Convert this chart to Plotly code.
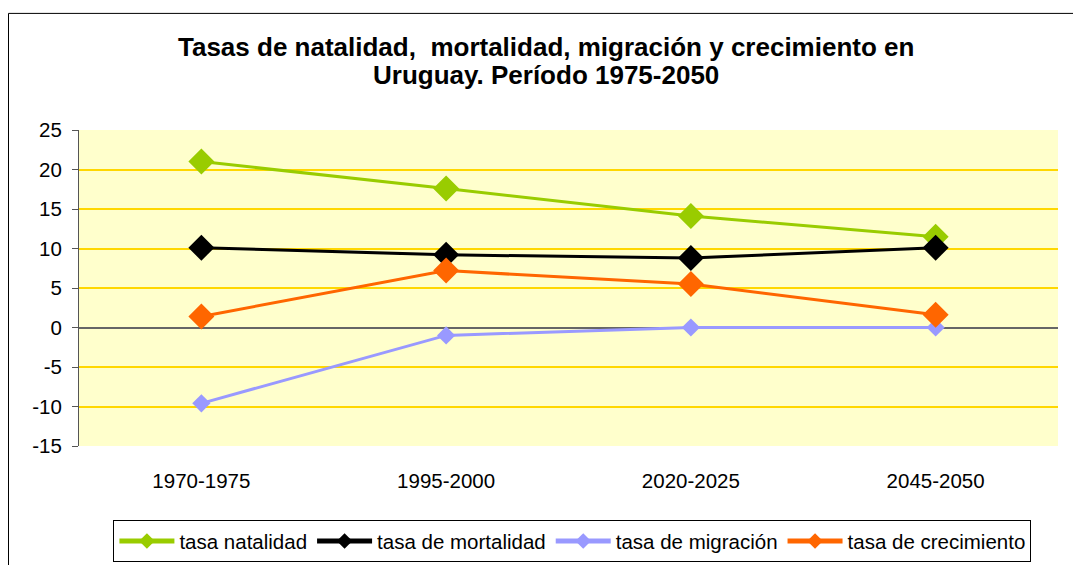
import plotly.graph_objects as go

periods = ['1970-1975', '1995-2000', '2020-2025', '2045-2050']
natalidad = [21.0, 17.6, 14.1, 11.5]
mortalidad = [10.1, 9.2, 8.8, 10.1]
migracion = [-9.6, -1.0, 0.0, 0.0]
crecimiento = [1.4, 7.2, 5.5, 1.6]
y_ticks = [-15, -10, -5, 0, 5, 10, 15, 20, 25]
y_tick_labels = ['-15', '-10', '-5', '0', '5', '10', '15', '20', '25']
title_lines = ['Tasas de natalidad,  mortalidad, migración y crecimiento en',
               'Uruguay. Período 1975-2050']

series = [
    ('tasa natalidad', natalidad, '#99CC00', 20),
    ('tasa de mortalidad', mortalidad, '#000000', 20),
    ('tasa de migración', migracion, '#9999FF', 14),
    ('tasa de crecimiento', crecimiento, '#FF6600', 20),
]

fig = go.Figure()
for name, vals, color, size in series:
    fig.add_trace(go.Scatter(
        x=periods,
        y=vals,
        name=name,
        mode='lines+markers',
        line=dict(color=color, width=3),
        marker=dict(symbol='diamond', size=size, color=color),
    ))

fig.update_layout(
    width=1081,
    height=565,
    font=dict(family='Liberation Sans, Arial', size=20, color='black'),
    paper_bgcolor='white',
    plot_bgcolor='#FFFFCC',
    margin=dict(l=71, r=31, t=122, b=126),
    showlegend=True,
    legend=dict(
        orientation='h',
        x=0.504,
        xanchor='center',
        y=-0.297,
        yanchor='middle',
        bordercolor='black',
        borderwidth=1,
        font=dict(size=20.5),
        itemsizing='constant',
        itemwidth=55,
    ),
    xaxis=dict(
        type='category',
        range=[-0.5, 3.5],
        showgrid=False,
        zeroline=False,
        showline=False,
        ticks='',
        ticklabelstandoff=20,
        tickfont=dict(size=20.5),
    ),
    yaxis=dict(
        range=[-15, 25],
        tickvals=y_ticks,
        ticktext=y_tick_labels,
        showgrid=True,
        gridcolor='#FFD700',
        gridwidth=1.5,
        zeroline=True,
        zerolinecolor='#666666',
        zerolinewidth=1.5,
        showline=True,
        linecolor='#555555',
        linewidth=1,
        ticks='outside',
        ticklen=6,
        tickcolor='#555555',
        ticklabelstandoff=6,
        tickfont=dict(size=20.5),
    ),
)

# title as two lines, tighter spacing than plotly's title
for line, ypos in zip(title_lines, [1.262, 1.1735]):
    fig.add_annotation(text='<b>' + line + '</b>', xref='paper', yref='paper',
                       x=0.477, y=ypos, xanchor='center', yanchor='middle',
                       showarrow=False, font=dict(size=26, color='black'))

# outer chart frame
fig.add_shape(type='rect', xref='paper', yref='paper',
              x0=-0.072, x1=1.1, y0=-0.6, y1=1.369,
              line=dict(color='black', width=1), layer='below')

fig.write_html('out.html')
